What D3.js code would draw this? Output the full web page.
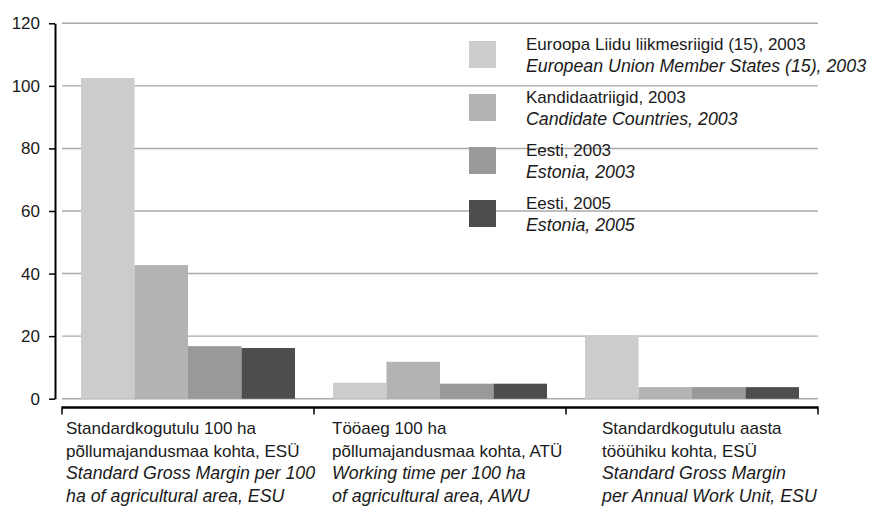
<!DOCTYPE html>
<html>
<head>
<meta charset="utf-8">
<script src="https://cdn.jsdelivr.net/npm/d3@7"></script>
<style>
  html, body { margin: 0; padding: 0; background: #fff; }
  svg { display: block; font-family: "Liberation Sans", Arial, Helvetica, sans-serif; }
</style>
</head>
<body>
<svg id="chart" width="872" height="508"></svg>
<script>
// Indicator groups (Estonian line, English line in italics)
const categoriesEt = [
  ["Standardkogutulu 100 ha", "põllumajandusmaa kohta, ESÜ"],
  ["Tööaeg 100 ha", "põllumajandusmaa kohta, ATÜ"],
  ["Standardkogutulu aasta", "tööühiku kohta, ESÜ"]
];
const categoriesEn = [
  ["Standard Gross Margin per 100", "ha of agricultural area, ESU"],
  ["Working time per 100 ha", "of agricultural area, AWU"],
  ["Standard Gross Margin", "per Annual Work Unit, ESU"]
];

// Series
const seriesEt = ["Euroopa Liidu liikmesriigid (15), 2003", "Kandidaatriigid, 2003", "Eesti, 2003", "Eesti, 2005"];
const seriesEn = ["European Union Member States (15), 2003", "Candidate Countries, 2003", "Estonia, 2003", "Estonia, 2005"];
const seriesColors = ["#cccccc", "#b3b3b3", "#999999", "#4d4d4d"];

// Values per series, one per indicator group
const eu15_2003 = [102.5, 5.1, 20.3];
const candidates_2003 = [42.7, 11.8, 3.7];
const estonia_2003 = [16.8, 4.8, 3.7];
const estonia_2005 = [16.2, 4.8, 3.7];
const seriesValues = [eu15_2003, candidates_2003, estonia_2003, estonia_2005];

const yTicks = [0, 20, 40, 60, 80, 100, 120];

const svg = d3.select("#chart");
const textColor = "#1a1a1a";
const fontSize = 17;
const italicSize = 17.8;

const plotLeft = 62, plotRight = 818;
const y = d3.scaleLinear().domain([0, 120]).range([398.7, 23.3]);

const groupIdx = d3.range(categoriesEt.length);
const x0 = d3.scaleBand().domain(groupIdx).range([plotLeft, plotRight]).padding(0);
const x1 = d3.scaleBand().domain(d3.range(seriesEt.length))
  .range([0, x0.bandwidth()]).paddingInner(0).paddingOuter(0.355);

// Horizontal gridlines
svg.append("g")
  .selectAll("line")
  .data(yTicks)
  .join("line")
  .attr("x1", plotLeft).attr("x2", plotRight)
  .attr("y1", d => y(d)).attr("y2", d => y(d))
  .attr("stroke", "#aaaaaa").attr("stroke-width", 1.4);

// Bars
const groups = svg.append("g")
  .selectAll("g")
  .data(groupIdx)
  .join("g")
  .attr("transform", g => `translate(${x0(g)},0)`);

groups.selectAll("rect")
  .data(g => seriesValues.map((vals, s) => ({ s, v: vals[g] })))
  .join("rect")
  .attr("x", d => x1(d.s))
  .attr("width", x1.bandwidth())
  .attr("y", d => y(d.v))
  .attr("height", d => y(0) - y(d.v))
  .attr("fill", d => seriesColors[d.s]);

// Y axis
const yAxis = svg.append("g")
  .attr("transform", "translate(55,0)")
  .call(d3.axisLeft(y).tickValues(yTicks).tickSize(6).tickPadding(9).tickSizeOuter(0));
yAxis.select(".domain").attr("stroke", "#000").attr("stroke-width", 2);
yAxis.selectAll(".tick line").attr("stroke", "#000").attr("stroke-width", 1.5);
yAxis.selectAll(".tick text")
  .attr("fill", textColor)
  .style("font-size", fontSize + "px")
  .style("font-family", "'Liberation Sans', Arial, sans-serif");

// X axis: baseline with group separators
const xAxisY = 407.5;
svg.append("line")
  .attr("x1", plotLeft - 0.5).attr("x2", plotRight + 0.5)
  .attr("y1", xAxisY).attr("y2", xAxisY)
  .attr("stroke", "#000").attr("stroke-width", 2.5);

const sepPositions = groupIdx.map(g => x0(g)).concat([x0.range()[1]]);
svg.append("g")
  .selectAll("line")
  .data(sepPositions)
  .join("line")
  .attr("x1", d => d).attr("x2", d => d)
  .attr("y1", xAxisY).attr("y2", xAxisY + 7)
  .attr("stroke", "#000").attr("stroke-width", 1.5);

// Category labels below the axis
const labelInset = [4, 18, 36];
const lineGap = 22.6;
const firstBaseline = 434;
groupIdx.forEach(g => {
  const lines = categoriesEt[g].map(t => ({ t, it: false }))
    .concat(categoriesEn[g].map(t => ({ t, it: true })));
  svg.append("g")
    .selectAll("text")
    .data(lines)
    .join("text")
    .attr("x", x0(g) + labelInset[g])
    .attr("y", (d, i) => firstBaseline + i * lineGap)
    .attr("fill", textColor)
    .style("font-size", d => (d.it ? italicSize : fontSize) + "px")
    .style("font-style", d => d.it ? "italic" : "normal")
    .text(d => d.t);
});

// Legend
const legend = svg.append("g").attr("transform", "translate(469,41)");
const legendStep = 53;
const items = legend.selectAll("g")
  .data(d3.range(seriesEt.length))
  .join("g")
  .attr("transform", s => `translate(0,${s * legendStep})`);
items.append("rect")
  .attr("width", 27).attr("height", 27)
  .attr("fill", s => seriesColors[s]);
items.append("text")
  .attr("x", 57).attr("y", 9)
  .attr("fill", textColor)
  .style("font-size", fontSize + "px")
  .text(s => seriesEt[s]);
items.append("text")
  .attr("x", 57).attr("y", 31)
  .attr("fill", textColor)
  .style("font-size", italicSize + "px")
  .style("font-style", "italic")
  .text(s => seriesEn[s]);
</script>
</body>
</html>
